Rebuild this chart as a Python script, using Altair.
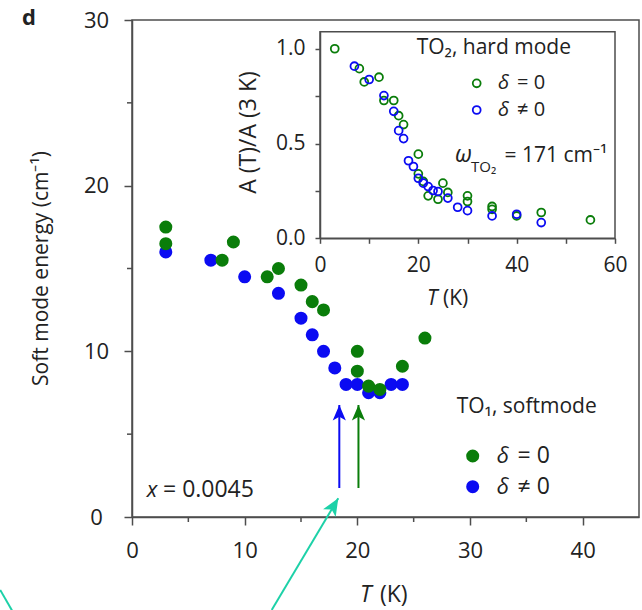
import altair as alt
import pandas as pd

# ---- TO1 soft mode energy vs temperature (main panel) ----
t_delta0 = [3, 3, 8, 9, 12, 13, 15, 16, 17, 20, 20, 21, 22, 24, 26]
e_delta0 = [17.5, 16.5, 15.5, 16.6, 14.5, 15.0, 14.0, 13.0, 12.5, 10.0, 8.8, 7.9, 7.7, 9.1, 10.8]
t_deltan = [3, 7, 10, 13, 15, 16, 17, 18, 19, 20, 21, 22, 23, 24]
e_deltan = [16.0, 15.5, 14.5, 13.5, 12.0, 11.0, 10.0, 9.0, 8.0, 8.0, 7.5, 7.5, 8.0, 8.0]

# transition markers (vertical arrows): temperature, base and tip energy
arrow_t = [18.4, 20.1]
arrow_base = [1.75, 1.75]
arrow_tip = [6.76, 6.76]

# pointer arrow coming from below the axis (tail -> tip) and a stray stroke
pointer_t0 = [12.4, -11.7]
pointer_e0 = [-5.61, -4.4]
pointer_t1 = [18.31, -10.6]
pointer_e1 = [1.13, -5.7]

# ---- TO2 hard mode normalised amplitude (inset) ----
it_delta0 = [3, 8, 9, 12, 13, 15, 16, 17, 20, 20, 21, 22, 24, 25, 26, 30, 30, 35, 35, 40, 45, 55]
ia_delta0 = [1.0, 0.895, 0.825, 0.85, 0.727, 0.727, 0.647, 0.60, 0.444, 0.34, 0.30, 0.224,
             0.206, 0.291, 0.242, 0.224, 0.194, 0.168, 0.153, 0.118, 0.136, 0.097]
it_deltan = [7, 10, 13, 15, 16, 17, 18, 19, 20, 21, 22, 23, 24, 26, 28, 30, 35, 40, 45]
ia_deltan = [0.908, 0.838, 0.753, 0.67, 0.568, 0.526, 0.409, 0.379, 0.317, 0.291, 0.273,
             0.252, 0.247, 0.212, 0.164, 0.146, 0.118, 0.127, 0.083]

GREEN = "#0a7d0a"
BLUE = "#0b0bf2"
TEAL = "#1dd1a8"
AX = "#4d4d4d"
TXT = "#222222"
FONT = "Open Sans"

# plot area geometry (pixels)
W, H = 507, 497
INSET_X = [188, 483]
INSET_Y = [218.3, 11.7]

# notched arrowhead with its tip at the symbol origin
HEAD = "M0,0L0.85,2L0,1.5L-0.85,2Z"

ONE = pd.DataFrame({"k": [0]})


def label(text, x, y, size, style="normal", weight="normal", align="left",
          baseline="alphabetic", angle=0, color=TXT):
    return alt.Chart(ONE).mark_text(
        text=text, font=FONT, fontSize=size, fontStyle=style, fontWeight=weight,
        align=align, baseline=baseline, angle=angle, color=color,
    ).encode(x=alt.value(x), y=alt.value(y))


# ---------------- main panel ----------------
main_x_axis = alt.Axis(values=[0, 10, 20, 30, 40], tickSize=8, tickWidth=1.5, tickColor=AX,
                       domainColor=AX, domainWidth=1.5, labelPadding=25, labelBaseline="middle",
                       labelFont=FONT, labelFontSize=22, labelColor=TXT, labelFlush=False,
                       grid=False)
main_y_axis = alt.Axis(values=[0, 10, 20, 30], tickSize=8, tickWidth=1.5, tickColor=AX,
                       domainColor=AX, domainWidth=1.5, labelPadding=28, labelAlign="center",
                       labelBaseline="middle", labelFont=FONT, labelFontSize=22,
                       labelColor=TXT, grid=False)


def xm(field):
    return alt.X(field, scale=alt.Scale(domain=[0, 45], nice=False), axis=main_x_axis, title=None)


def ym(field):
    return alt.Y(field, scale=alt.Scale(domain=[0, 30], nice=False), axis=main_y_axis, title=None)


df_g = pd.DataFrame({"T": t_delta0, "E": e_delta0})
df_b = pd.DataFrame({"T": t_deltan, "E": e_deltan})
df_arrow = pd.DataFrame({"T": arrow_t, "E": arrow_base, "Etip": arrow_tip, "c": [BLUE, GREEN]})
df_pointer = pd.DataFrame({"T": pointer_t0, "E": pointer_e0, "T1": pointer_t1, "E1": pointer_e1})
df_pointer_tip = df_pointer.iloc[[0]]

minor_x = alt.Chart(pd.DataFrame({"T": [5, 15, 25, 35]})).mark_rule(
    color=AX, strokeWidth=1.5, clip=False).encode(x=xm("T:Q"), y=alt.value(H), y2=alt.value(H + 5))
minor_y = alt.Chart(pd.DataFrame({"E": [5, 15, 25]})).mark_rule(
    color=AX, strokeWidth=1.5, clip=False).encode(y=ym("E:Q"), x=alt.value(0), x2=alt.value(-5))

pts_b = alt.Chart(df_b).mark_circle(size=170, color=BLUE, opacity=1).encode(x=xm("T:Q"), y=ym("E:Q"))
pts_g = alt.Chart(df_g).mark_circle(size=170, color=GREEN, opacity=1).encode(x=xm("T:Q"), y=ym("E:Q"))

shafts = alt.Chart(df_arrow).mark_rule(strokeWidth=2, clip=False).encode(
    x=xm("T:Q"), y=ym("E:Q"), y2="Etip:Q", color=alt.Color("c:N", scale=None))
heads = alt.Chart(df_arrow).mark_point(shape=HEAD, filled=True, size=240, opacity=1,
                                        strokeWidth=0, clip=False).encode(
    x=xm("T:Q"), y=ym("Etip:Q"), color=alt.Color("c:N", scale=None))

pointer = alt.Chart(df_pointer).mark_rule(strokeWidth=2, color=TEAL, clip=False).encode(
    x=xm("T:Q"), y=ym("E:Q"), x2="T1:Q", y2="E1:Q")
pointer_head = alt.Chart(df_pointer_tip).mark_point(
    shape=HEAD, filled=True, size=300, opacity=1, strokeWidth=0, color=TEAL,
    angle=31, clip=False).encode(x=xm("T1:Q"), y=ym("E1:Q"))

main_texts = [
    label("d", -103, 5, 22, weight="bold", align="center"),
    label("Soft mode energy (cm\u207b\u00b9)", -90, 248.5, 21, align="center",
          baseline="middle", angle=270),
    label("T", 228, 582, 23, style="italic"),
    label("(K)", 248, 582, 23),
    label("x", 14.7, 477, 22, style="italic"),
    label("= 0.0045", 31, 477, 23),
    label("TO\u2081, softmode", 324.7, 393, 21),
    label("\u03b4", 364.7, 436, 22, style="italic", baseline="middle"),
    label("= 0", 385.5, 436, 23, baseline="middle"),
    label("\u03b4", 364.7, 466.7, 22, style="italic", baseline="middle"),
    label("\u2260 0", 385.5, 466.7, 23, baseline="middle"),
]

legend_dots = alt.Chart(pd.DataFrame({"c": [GREEN, BLUE], "py": [436, 466.7]})).mark_circle(
    size=170, opacity=1).encode(x=alt.value(340.7), y=alt.Y("py:Q", scale=None),
                                color=alt.Color("c:N", scale=None))

main = alt.layer(minor_x, minor_y, pts_b, pts_g, shafts, heads, pointer, pointer_head,
                 legend_dots, *main_texts)

# ---------------- inset ----------------
inset_x_axis = alt.Axis(orient="bottom", offset=INSET_Y[0] - H, values=[0, 10, 20, 30, 40, 50, 60],
                        labelExpr="datum.value % 20 === 0 ? datum.label : ''",
                        tickSize=5, tickWidth=1.5, tickColor=AX, domainColor=AX, domainWidth=1.5,
                        labelPadding=22, labelBaseline="middle", labelFont=FONT, labelFontSize=21,
                        labelColor=TXT, labelFlush=False, grid=False, zindex=1)
inset_y_axis = alt.Axis(orient="left", offset=-INSET_X[0], values=[0, 0.25, 0.5, 0.75, 1.0],
                        format=".1f",
                        labelExpr="(datum.value * 4) % 2 === 0 ? datum.label : ''",
                        tickSize=5, tickWidth=1.5, tickColor=AX, domainColor=AX, domainWidth=1.5,
                        labelPadding=10, labelAlign="right", labelBaseline="middle",
                        labelFont=FONT, labelFontSize=21, labelColor=TXT, grid=False, zindex=1)


def xi(field):
    return alt.X(field, scale=alt.Scale(domain=[0, 60], range=INSET_X, nice=False),
                 axis=inset_x_axis, title=None)


def yi(field):
    return alt.Y(field, scale=alt.Scale(domain=[0, 1.09], range=INSET_Y, nice=False),
                 axis=inset_y_axis, title=None)


box = alt.Chart(pd.DataFrame({"T": [0], "T1": [60], "A": [0], "A1": [1.09]})).mark_rect(
    fill="white", stroke=AX, strokeWidth=1.5).encode(x=xi("T:Q"), x2="T1:Q", y=yi("A:Q"), y2="A1:Q")

ipts_g = alt.Chart(pd.DataFrame({"T": it_delta0, "A": ia_delta0})).mark_point(
    filled=False, size=62, strokeWidth=1.8, color=GREEN, opacity=1).encode(x=xi("T:Q"), y=yi("A:Q"))
ipts_b = alt.Chart(pd.DataFrame({"T": it_deltan, "A": ia_deltan})).mark_point(
    filled=False, size=62, strokeWidth=1.8, color=BLUE, opacity=1).encode(x=xi("T:Q"), y=yi("A:Q"))

inset_legend = alt.Chart(pd.DataFrame({"c": [GREEN, BLUE], "py": [63.3, 90]})).mark_point(
    filled=False, size=62, strokeWidth=1.8, opacity=1).encode(
    x=alt.value(344.7), y=alt.Y("py:Q", scale=None), color=alt.Color("c:N", scale=None))

inset_texts = [
    label("TO\u2082, hard mode", 284.7, 34, 21),
    label("\u03b4", 366, 63.3, 20, style="italic", baseline="middle"),
    label("= 0", 385, 63.3, 20, baseline="middle"),
    label("\u03b4", 366, 90, 20, style="italic", baseline="middle"),
    label("\u2260 0", 385, 90, 20, baseline="middle"),
    label("\u03c9", 323, 141.7, 23, style="italic"),
    label("TO\u2082", 339, 152, 15),
    label("= 171 cm\u207b\u00b9", 372.5, 141.7, 21),
    label("A (T)/A (3 K)", 117, 112.5, 23, align="center", baseline="middle", angle=270),
    label("T", 295, 285, 21, style="italic"),
    label("(K)", 311, 285, 21),
]

inset = alt.layer(box, ipts_g, ipts_b, inset_legend, *inset_texts)

chart = alt.layer(main, inset).resolve_scale(
    x="independent", y="independent"
).properties(
    width=W, height=H,
    padding={"left": 132, "top": 20, "right": 3, "bottom": 93},
    autosize=alt.AutoSizeParams(type="none"),
    background="white",
).configure_view(stroke=AX, strokeWidth=1.5)

chart.save("out.html", embed_options={"renderer": "svg", "actions": False})
